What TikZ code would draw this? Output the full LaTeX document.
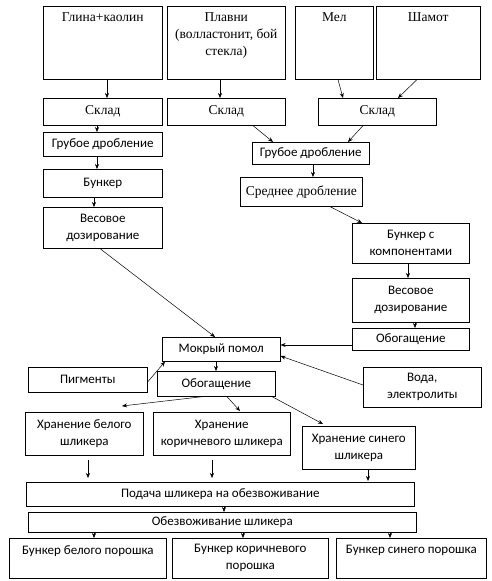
\documentclass[tikz,border=0pt]{standalone}
\usepackage{fontspec}
\setmainfont{Liberation Serif}
\newfontfamily\sansf{Carlito}
\usetikzlibrary{calc,arrows.meta}
\begin{document}
\begin{tikzpicture}[x=1pt,y=-1pt,
 box/.style={draw, line width=0.6pt, anchor=north west, inner sep=0pt, align=center},
 serif/.style={font=\fontsize{13.5}{17}\selectfont},
 sans/.style={font=\sansf\fontsize{13}{17}\selectfont},
 arr/.style={-{Stealth[length=5pt,width=4pt]}, line width=0.5pt}]
\useasboundingbox (0,0) rectangle (491,581);
% top row
\node[box,serif,minimum width=119pt,minimum height=73pt] (glina) at (43,6) {Глина+каолин\\\mbox{}\\\mbox{}\\\mbox{}};
\node[box,serif,minimum width=118pt,minimum height=73pt] (plavni) at (167,6) {Плавни\\(волластонит, бой\\стекла)\\\mbox{}};
\node[box,serif,minimum width=78pt,minimum height=73pt] (mel) at (295,6) {Мел\\\mbox{}\\\mbox{}\\\mbox{}};
\node[box,serif,minimum width=104pt,minimum height=73pt] (shamot) at (376,6) {Шамот\\\mbox{}\\\mbox{}\\\mbox{}};
% sklad
\node[box,serif,minimum width=119pt,minimum height=27pt] (sklad1) at (43,98) {Склад};
\node[box,serif,minimum width=118pt,minimum height=27pt] (sklad2) at (167,98) {Склад};
\node[box,serif,minimum width=118pt,minimum height=27pt] (sklad3) at (318,98) {Склад};
% left column
\node[box,sans,minimum width=119pt,minimum height=24pt] (grub1) at (43,132) {Грубое дробление};
\node[box,sans,minimum width=119pt,minimum height=28pt] (bunk1) at (43,169) {Бункер};
\node[box,sans,minimum width=119pt,minimum height=41pt] (ves1) at (43,207) {Весовое\\дозирование};
% right column
\node[box,sans,minimum width=117pt,minimum height=22pt] (grub2) at (252,142) {Грубое дробление};
\node[box,serif,minimum width=122pt,minimum height=29pt] (sred) at (240,177) {Среднее дробление};
\node[box,sans,minimum width=117pt,minimum height=40pt] (bunkk) at (352,223) {Бункер с\\компонентами};
\node[box,sans,minimum width=117pt,minimum height=44pt] (ves2) at (352,278) {Весовое\\дозирование};
\node[box,sans,minimum width=117pt,minimum height=22pt] (obog2) at (352,328) {Обогащение};
% middle
\node[box,sans,minimum width=118pt,minimum height=24pt] (mokr) at (162,337) {Мокрый помол};
\node[box,sans,minimum width=118pt,minimum height=25pt] (obog1) at (157,371) {Обогащение};
\node[box,sans,minimum width=119pt,minimum height=25pt] (pigm) at (28,367) {Пигменты};
\node[box,sans,minimum width=118pt,minimum height=40pt] (voda) at (363,367) {Вода,\\электролиты};
% storage
\node[box,sans,minimum width=118pt,minimum height=43pt] (hrb) at (25,412) {Хранение белого\\шликера};
\node[box,sans,minimum width=137pt,minimum height=43pt] (hrk) at (153,412) {Хранение\\коричневого шликера};
\node[box,sans,minimum width=113pt,minimum height=43pt] (hrs) at (302,426) {Хранение синего\\шликера};
% bottom
\node[box,sans,minimum width=388pt,minimum height=24pt] (podacha) at (26,482) {Подача шликера на обезвоживание};
\node[box,sans,minimum width=388pt,minimum height=20pt] (obez) at (28,512) {Обезвоживание шликера};
\node[box,sans,minimum width=157pt,minimum height=40pt] (bb) at (9,538) {Бункер белого порошка\\\mbox{}};
\node[box,sans,minimum width=156pt,minimum height=40pt] (bk) at (172,538) {Бункер коричневого\\порошка};
\node[box,sans,minimum width=150pt,minimum height=40pt] (bs) at (336,538) {Бункер синего порошка\\\mbox{}};
% arrows
\draw[arr] ($(glina.south west)+(64,0)$) -- ($(sklad1.north west)+(64,0)$);
\draw[arr] ($(plavni.south west)+(53,0)$) -- ($(sklad2.north west)+(53,0)$);
\draw[arr] ($(mel.south west)+(43,0)$) -- ($(sklad3.north west)+(25,0)$);
\draw[arr] ($(shamot.south west)+(41,0)$) -- ($(sklad3.north west)+(80,0)$);
\draw[arr] ($(sklad1.south west)+(54,0)$) -- ($(grub1.north west)+(54,0)$);
\draw[arr] ($(grub1.south west)+(54,0)$) -- ($(bunk1.north west)+(54,0)$);
\draw[arr] ($(bunk1.south west)+(51,0)$) -- ($(ves1.north west)+(51,0)$);
\draw[arr] ($(sklad2.south west)+(86,0)$) -- ($(grub2.north west)+(21,0)$);
\draw[arr] ($(sklad3.south west)+(45,0)$) -- ($(grub2.north west)+(96,0)$);
\draw[arr] ($(grub2.south west)+(61,0)$) -- ($(sred.north west)+(73,0)$);
\draw[arr] ($(sred.south west)+(90,0)$) -- ($(bunkk.north west)+(10,0)$);
\draw[arr] ($(bunkk.south west)+(56,0)$) -- ($(ves2.north west)+(56,0)$);
\draw[arr] ($(ves2.south west)+(63,0)$) -- ($(obog2.north west)+(63,0)$);
\draw[arr] ($(obog2.north west)+(0,17)$) -- ($(mokr.north east)+(0,8)$);
\draw[arr] ($(voda.north west)+(0,18)$) -- ($(mokr.north east)+(0,19)$);
\draw[arr] ($(ves1.south west)+(57,0)$) -- ($(mokr.north west)+(53,0)$);
\draw[arr] ($(pigm.north east)+(0,15)$) -- ($(mokr.south west)+(3,0)$);
\draw[arr] ($(mokr.south west)+(54,0)$) -- ($(obog1.north west)+(59,0)$);
\draw[arr] ($(obog1.south west)+(46,0)$) -- ($(hrb.north west)+(97,-6)$);
\draw[arr] ($(obog1.south west)+(70,0)$) -- ($(hrk.north west)+(87,-1)$);
\draw[arr] ($(obog1.south west)+(115,0)$) -- ($(hrs.north west)+(21,-2)$);
\draw[arr] ($(hrb.south west)+(63,4)$) -- ($(podacha.north west)+(62,-4)$);
\draw[arr] ($(hrk.south west)+(59,4)$) -- ($(podacha.north west)+(186,-4)$);
\draw[arr] ($(hrs.south west)+(66,0)$) -- ($(podacha.north west)+(342,-1)$);
\draw[arr] ($(podacha.south west)+(198,0)$) -- ($(obez.north west)+(196,0)$);
\draw[arr] ($(obez.south west)+(66,0)$) -- ($(bb.north west)+(85,0)$);
\draw[arr] ($(obez.south west)+(215,0)$) -- ($(bk.north west)+(71,0)$);
\draw[arr] ($(obez.south west)+(362,0)$) -- ($(bs.north west)+(54,0)$);
\end{tikzpicture}
\end{document}
